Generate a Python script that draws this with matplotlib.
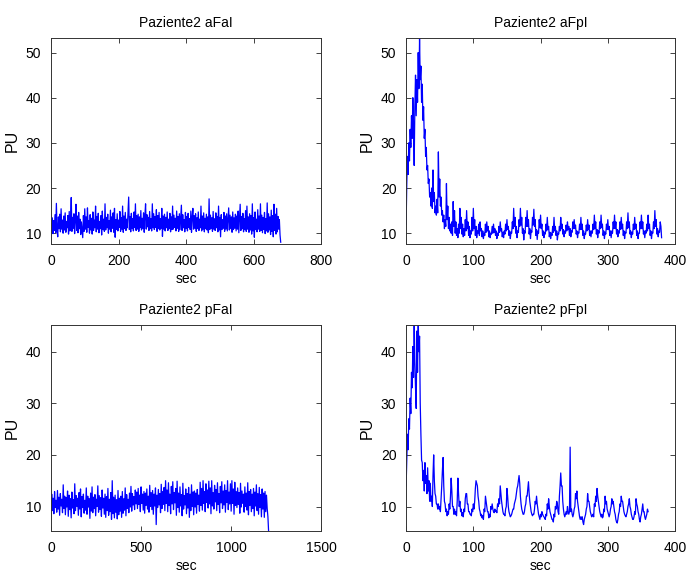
import numpy as np
import matplotlib
matplotlib.use("Agg")
import matplotlib.pyplot as plt

plt.rcParams['font.family'] = ['Liberation Sans', 'DejaVu Sans']

# Paziente2 aFaI, one value every 2 s (0..680 s)
afai = [
	12.0, 10.2, 13.4, 9.9, 12.8, 10.6, 14.1, 10.1, 16.6, 10.8,
	9.2, 13.6, 11.0, 14.2, 10.3, 15.4, 10.9, 12.9, 10.0, 13.8,
	10.7, 14.5, 10.2, 12.6, 11.2, 13.9, 9.8, 14.8, 10.5, 13.2,
	17.9, 10.4, 13.5, 11.1, 14.3, 9.9, 12.7, 16.4, 10.6, 13.8,
	10.1, 14.6, 11.0, 13.1, 9.7, 12.5, 10.8, 9.0, 13.9, 10.4,
	15.4, 10.9, 13.6, 10.2, 15.6, 11.3, 12.8, 10.0, 14.1, 10.7,
	13.3, 9.8, 14.7, 10.6, 12.9, 11.2, 16.0, 10.3, 13.7, 10.9,
	14.4, 10.1, 12.6, 11.0, 13.9, 9.6, 14.9, 10.8, 13.1, 10.4,
	16.5, 10.7, 13.5, 11.2, 14.2, 10.0, 12.8, 10.9, 15.1, 10.3,
	13.6, 11.1, 14.5, 10.2, 15.5, 9.1, 13.0, 10.8, 14.3, 10.5,
	12.9, 11.3, 14.8, 10.4, 13.4, 10.9, 16.0, 10.2, 13.8, 11.0,
	14.6, 10.6, 13.1, 11.2, 14.9, 18.0, 10.8, 13.7, 10.3, 14.4,
	11.0, 13.2, 10.5, 14.7, 11.3, 16.5, 10.6, 13.9, 10.9, 14.2,
	10.4, 13.6, 11.2, 15.0, 10.7, 13.3, 11.1, 14.5, 10.2, 13.8,
	16.5, 10.9, 14.1, 11.4, 13.5, 10.6, 14.8, 11.0, 13.2, 10.5,
	16.5, 11.2, 14.3, 10.8, 13.7, 11.3, 15.2, 10.4, 13.9, 11.0,
	14.6, 10.7, 13.2, 11.1, 15.5, 9.3, 13.8, 10.9, 14.2, 10.5,
	13.5, 11.2, 14.7, 10.6, 13.1, 11.0, 14.4, 10.3, 13.6, 10.8,
	16.0, 10.9, 14.0, 11.3, 13.3, 10.5, 14.9, 11.1, 13.7, 10.4,
	14.3, 10.8, 13.5, 16.2, 10.6, 14.1, 11.2, 13.0, 10.3, 14.6,
	11.0, 13.7, 10.5, 14.4, 11.3, 13.2, 10.8, 14.9, 10.2, 13.6,
	15.5, 10.9, 13.9, 11.1, 14.3, 10.4, 13.4, 11.0, 14.7, 10.6,
	13.1, 11.2, 16.0, 10.5, 13.8, 10.9, 14.5, 10.3, 13.3, 11.0,
	14.2, 10.7, 13.6, 10.1, 17.6, 10.8, 14.0, 11.1, 13.4, 10.4,
	14.8, 10.9, 13.2, 10.6, 14.5, 11.2, 13.7, 10.3, 16.0, 10.7,
	13.5, 9.2, 14.1, 10.8, 13.0, 11.1, 14.6, 10.4, 13.8, 10.9,
	14.3, 10.5, 13.1, 15.6, 10.7, 14.0, 11.0, 13.6, 10.2, 14.7,
	10.8, 13.4, 11.1, 14.2, 10.5, 13.8, 10.9, 14.9, 10.1, 13.3,
	16.4, 10.6, 13.7, 11.0, 14.4, 10.3, 13.2, 10.8, 15.0, 10.4,
	16.0, 10.9, 13.6, 10.2, 14.3, 10.7, 13.9, 9.8, 16.5, 10.5,
	13.4, 9.1, 14.7, 10.8, 13.1, 10.3, 15.2, 10.9, 13.8, 10.4,
	16.5, 10.6, 14.0, 10.1, 13.5, 10.8, 14.6, 9.9, 13.2, 10.5,
	16.7, 10.2, 14.3, 10.7, 13.6, 9.7, 15.1, 10.4, 13.9, 9.2,
	16.4, 10.6, 14.2, 9.8, 15.5, 10.3, 13.7, 10.9, 13.0, 9.6,
	8.0,
]

# Paziente2 aFpI, one value every 1 s (0..380 s)
afpi = [
	12, 21, 27, 23, 30, 26, 33, 29, 36, 31,
	40, 34, 25, 38, 45, 36, 44, 39, 50, 42,
	53, 44, 47, 39, 43, 35, 38, 31, 33, 27,
	29, 24, 25, 21, 22, 18, 19, 16, 20, 15.5,
	24, 17, 19, 14.5, 16, 14, 17.5, 14.5, 28, 18,
	22, 16, 18, 14, 15, 12.5, 14, 11, 13, 11.5,
	21, 13, 16, 11, 13.5, 10.5, 12, 10, 12.5, 9.5,
	17, 11.5, 15, 10, 12.5, 9.5, 11, 9, 12, 10,
	15.5, 11, 13.5, 9.8, 12, 9.2, 11, 9.5, 13, 10.5,
	15, 11, 12.5, 9.5, 11.5, 9, 10.5, 9.8, 13.5, 10.5,
	15.5, 11, 13, 9.5, 11.5, 9, 10.5, 10, 12, 9.5,
	12.5, 10.5, 11, 9.2, 10.5, 8.8, 10, 9.5, 12, 10.2,
	12.5, 10.5, 11.5, 9.2, 10.5, 9, 10, 9.8, 11.5, 10,
	12, 10.2, 11, 9.5, 10.5, 8.8, 10, 9.5, 11.5, 10.2,
	12.5, 10.5, 11, 9.2, 10.2, 9, 10.5, 9.8, 12, 10.5,
	13, 10.8, 11.5, 9.5, 10.5, 8.8, 10.2, 10, 12.5, 11,
	15.5, 11.5, 13.5, 10, 11.5, 9, 10.5, 10.2, 13, 11.5,
	15.5, 11.8, 13.5, 10, 11, 8.5, 10.5, 10, 13.5, 11.5,
	15, 11.5, 13, 9.8, 11, 8.8, 10.5, 10.2, 13.5, 11.8,
	15.3, 11.5, 13, 9.5, 10.8, 8.6, 10.5, 10, 13, 11.2,
	14, 11, 12, 9.5, 10.5, 9, 10.2, 9.8, 12, 10.5,
	13.5, 10.8, 11.5, 9.2, 10.2, 8.8, 10, 9.5, 11.5, 10.2,
	13.5, 10.5, 11.5, 9.5, 10.5, 8.5, 10, 9.8, 11.5, 10.5,
	13.5, 11, 12, 9.8, 10.8, 9.2, 10.5, 10, 11.8, 10.5,
	12.5, 10.8, 11.5, 9.5, 11, 9.2, 10.5, 10.2, 12.5, 11,
	13, 11, 11.8, 9.8, 10.5, 9, 10.2, 10, 12, 10.8,
	13.5, 10.8, 12, 9.5, 10.5, 8.8, 10, 9.8, 11.8, 10.5,
	13, 10.8, 11.8, 9.5, 10.5, 9.2, 10.5, 10, 12, 10.8,
	14, 11, 12.5, 9.8, 10.8, 9, 10.5, 10, 12.5, 11,
	14, 11.2, 12, 9.5, 10.5, 8.8, 10.2, 9.8, 12, 10.8,
	13, 10.8, 11.5, 9.5, 10.5, 9, 10.5, 10, 12.5, 11,
	14, 11, 12.5, 9.8, 10.8, 9.2, 10.5, 10, 12.5, 10.8,
	13.5, 11, 12, 9.5, 10.5, 8.8, 10.2, 10, 12.5, 11,
	14.5, 11.2, 12.5, 9.8, 10.5, 9, 10.2, 9.8, 12, 10.8,
	13.5, 11, 12, 9.5, 10.5, 8.8, 10, 10, 12.5, 11,
	14, 11, 12.5, 9.8, 10.5, 9, 10.5, 10, 12, 10.5,
	14, 11, 12, 9.5, 10.5, 8.8, 10.2, 10, 12.5, 11,
	15, 11.5, 13, 9.8, 11, 9.2, 10.5, 10.2, 12.5, 11.5,
	9,
]

# Paziente2 pFaI, one value every 4 s (0..1208 s)
pfai = [
	7.5, 12.4, 9.2, 11.6, 8.6, 12.9, 9.8, 11.2, 8.9, 13.1,
	9.5, 11.8, 8.3, 12.5, 10.1, 11.4, 8.8, 14.2, 9.6, 12.0,
	8.4, 11.7, 9.9, 13.0, 8.1, 12.2, 9.4, 11.5, 7.8, 12.8,
	9.7, 11.3, 8.6, 14.4, 9.2, 12.1, 10.0, 11.6, 8.3, 12.7,
	9.5, 13.4, 8.0, 11.9, 9.8, 12.4, 8.7, 11.2, 9.3, 13.6,
	8.5, 12.0, 9.9, 11.5, 7.7, 12.6, 9.1, 13.8, 8.8, 11.8,
	9.6, 12.3, 8.2, 11.4, 10.0, 14.0, 8.9, 12.1, 9.4, 11.7,
	8.1, 13.2, 9.7, 11.6, 8.5, 12.4, 7.9, 11.9, 9.2, 13.5,
	8.3, 11.4, 9.0, 12.7, 7.5, 15.0, 8.6, 11.8, 7.8, 12.2,
	8.9, 11.3, 7.6, 13.1, 8.4, 11.6, 9.1, 12.0, 7.9, 12.9,
	8.7, 11.5, 9.3, 13.6, 8.2, 12.3, 9.6, 11.4, 8.8, 12.6,
	9.9, 13.9, 9.1, 12.5, 10.3, 11.9, 9.4, 13.2, 10.5, 12.8,
	9.6, 13.5, 10.4, 12.2, 9.0, 13.8, 10.6, 12.4, 9.3, 12.9,
	8.7, 12.6, 10.2, 13.4, 9.5, 12.0, 8.9, 14.1, 10.0, 12.7,
	9.4, 13.1, 8.5, 12.4, 10.1, 13.6, 6.5, 12.2, 9.8, 13.3,
	10.3, 12.5, 8.8, 14.3, 9.6, 12.9, 10.4, 13.7, 9.2, 15.0,
	10.6, 13.2, 9.0, 14.6, 10.2, 12.4, 8.6, 13.9, 10.5, 14.8,
	9.4, 12.7, 10.7, 13.5, 8.3, 14.9, 9.8, 12.6, 8.9, 13.8,
	10.1, 12.3, 8.2, 14.5, 9.5, 12.1, 10.3, 13.4, 8.6, 12.5,
	9.7, 13.7, 7.9, 12.4, 9.2, 14.2, 10.0, 12.8, 8.4, 13.0,
	9.9, 12.6, 8.7, 13.3, 10.4, 12.2, 9.1, 14.7, 10.2, 13.5,
	9.3, 15.0, 10.6, 12.9, 9.0, 14.4, 10.8, 13.2, 9.7, 14.9,
	10.5, 13.6, 8.6, 15.0, 10.1, 12.7, 9.5, 14.1, 10.9, 13.3,
	9.2, 14.6, 10.4, 12.5, 8.8, 13.9, 10.7, 14.8, 9.6, 13.0,
	10.3, 14.2, 8.9, 13.1, 10.8, 15.0, 9.4, 12.8, 10.5, 14.4,
	9.1, 15.0, 10.6, 13.4, 8.5, 14.7, 10.2, 12.9, 9.8, 13.6,
	10.4, 12.7, 8.7, 14.5, 9.9, 13.0, 10.6, 12.4, 8.9, 13.8,
	10.0, 12.6, 9.3, 14.6, 8.4, 12.9, 10.2, 13.3, 9.0, 12.4,
	9.6, 13.5, 8.2, 12.8, 10.1, 14.2, 9.2, 12.5, 8.5, 13.7,
	9.8, 12.3, 8.0, 13.4, 9.5, 12.6, 7.9, 12.9, 9.0, 12.2,
	9.6, 8.0, 5.0,
]

# Paziente2 pFpI, one value every 1 s (0..360 s)
pfpi = [
	14, 19, 24, 21, 27, 25, 31, 28, 36, 33,
	41, 35, 46, 38, 33, 29, 44, 36, 46, 40,
	43, 30, 24, 19, 18.5, 15, 17, 13, 18.5, 14.5,
	16, 12.5, 17.5, 13, 15, 11, 14.5, 11, 12, 10,
	16, 20, 15, 12.5, 12, 10.5, 10.5, 9.5, 10.5, 9.5,
	10, 9, 11.5, 14, 17, 19.5, 14, 11, 10.5, 9,
	9.5, 8.2, 9, 8.5, 10.5, 9.5, 12, 15.5, 13, 10,
	10, 8.5, 9.5, 8.5, 9, 8.2, 11, 15.5, 12.5, 10,
	11, 9, 9.5, 8.2, 8.8, 8, 9.5, 9, 11.5, 12.5,
	12.5, 10.5, 10.5, 9, 9, 8.5, 8.5, 8.2, 9.5, 9,
	10.5, 9.5, 11, 13.5, 15, 14.5, 14, 12, 11, 9.5,
	9, 8.2, 8.5, 7.8, 8.2, 7.5, 9.5, 9, 12, 11,
	10, 9, 9, 7.8, 8.5, 8, 10, 9.5, 10.5, 9.5,
	9, 8.8, 9.5, 9, 9.2, 8.8, 10.5, 10, 11.5, 10.5,
	14, 12.5, 11, 10, 9, 8.5, 8.5, 8.2, 9.5, 10,
	13.5, 12, 10, 9, 8.5, 8, 8.2, 8.5, 9, 9.5,
	9.5, 10.5, 11, 11.5, 12.5, 13.5, 14, 15, 16, 14.5,
	12, 10.5, 9.5, 9, 8.5, 8.5, 9, 10, 10.5, 12,
	12, 13.5, 14.8, 12.5, 11, 10, 9, 8.5, 8.2, 8.5,
	8.5, 9.5, 11, 10.5, 12, 10.5, 9.5, 8.5, 8, 7.5,
	8.5, 8, 9, 8.5, 8.2, 8, 7.8, 7.5, 8.5, 8.2,
	10.5, 9.5, 11.5, 10, 9, 8.5, 8, 7.5, 7.5, 7,
	8.5, 8, 10, 9.5, 11, 10.5, 9, 8.5, 12, 14,
	16.5, 14, 14, 11, 9.5, 8.5, 8, 8.5, 9, 8.5,
	10, 9, 8.5, 9, 21.5, 9, 9.5, 8.5, 8, 8.5,
	9.5, 10, 12.5, 11.5, 13, 11, 10, 9, 8, 7.5,
	8, 7.5, 8, 7, 6.5, 7.5, 8, 8.5, 9.5, 10,
	12.5, 11, 11, 10, 9, 8.5, 8, 8.2, 8.5, 8,
	10.5, 10, 12, 11, 13.5, 12, 11, 10, 9, 8.5,
	8, 8.5, 7.8, 8, 9.5, 9, 12, 10.5, 11, 9.5,
	9, 8.5, 8, 8.5, 9.5, 10, 11.5, 10.5, 11, 10,
	9, 8.5, 7.5, 7, 6.8, 7.5, 8.5, 9, 10.5, 10,
	12, 11, 11, 10, 9, 8.5, 8.2, 8, 8.5, 9,
	10, 10.5, 11.5, 10, 9.5, 8.5, 8, 7.5, 7.5, 8,
	9, 8.5, 11.5, 10.5, 10, 9, 8.5, 7.5, 7, 8,
	8.5, 9.5, 10.5, 9, 9, 8, 7.5, 8, 8.5, 9.5,
	9,
]

panels = [
	("Paziente2 aFaI", afai, 2, (0, 800), [0, 200, 400, 600, 800], (7.6, 53.2), [10, 20, 30, 40, 50]),
	("Paziente2 aFpI", afpi, 1, (0, 400), [0, 100, 200, 300, 400], (7.6, 53.2), [10, 20, 30, 40, 50]),
	("Paziente2 pFaI", pfai, 4, (0, 1500), [0, 500, 1000, 1500], (5.2, 45.1), [10, 20, 30, 40]),
	("Paziente2 pFpI", pfpi, 1, (0, 400), [0, 100, 200, 300, 400], (5.2, 45.1), [10, 20, 30, 40]),
]

positions = [
	[0.0743, 0.5734, 0.394, 0.360],
	[0.592, 0.5734, 0.392, 0.360],
	[0.0743, 0.0712, 0.394, 0.360],
	[0.592, 0.0712, 0.392, 0.360],
]

fig = plt.figure(figsize=(6.86, 5.72), dpi=100)

for pos, (title, vals, step, xlim, xt, ylim, yt) in zip(positions, panels):
	ax = fig.add_axes(pos)
	t = np.arange(len(vals)) * step
	ax.plot(t, vals, color=(0, 0, 1), lw=0.9)
	ax.set_xlim(*xlim)
	ax.set_ylim(*ylim)
	ax.set_xticks(xt)
	ax.set_yticks(yt)
	ax.tick_params(direction='in', length=3.5, width=0.6, labelsize=10, pad=7,
		top=True, right=True, colors='#222222', labelcolor='black')
	for s in ax.spines.values():
		s.set_linewidth(0.7)
		s.set_color('#333333')
	ax.set_title(title, fontsize=10, pad=8)
	ax.set_xlabel("sec", fontsize=10, labelpad=3)
	ax.set_ylabel("PU", fontsize=11.5, labelpad=4)

fig.savefig("out.png", dpi=100)
